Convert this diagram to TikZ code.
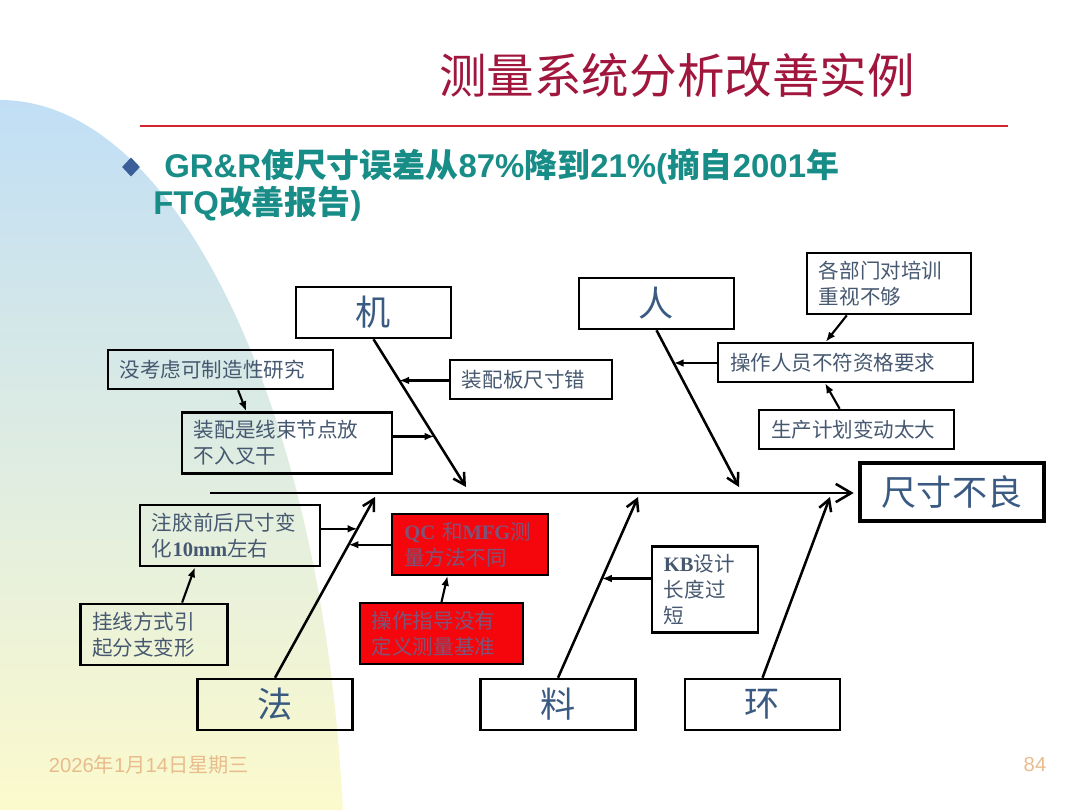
\documentclass[tikz,border=0pt]{standalone}
\usepackage{fontspec}
\setmainfont{Liberation Serif}
\newfontfamily\cjk{Noto Sans CJK SC}
\newfontfamily\arialfont{Liberation Sans}
\usetikzlibrary{shapes.geometric, arrows.meta, calc}

\definecolor{titlered}{RGB}{160,22,60}
\definecolor{rulered}{RGB}{212,36,48}
\definecolor{teal2}{RGB}{24,140,134}
\definecolor{bulletblue}{RGB}{58,94,152}
\definecolor{labelblue}{RGB}{58,90,130}
\definecolor{causeblue}{RGB}{70,88,112}
\definecolor{boxred}{RGB}{245,6,12}
\definecolor{redtext}{RGB}{125,84,120}
\definecolor{footorange}{RGB}{232,188,140}
\definecolor{bgblue}{RGB}{192,222,246}
\definecolor{bgmid}{RGB}{232,244,240}
\definecolor{bgyellow}{RGB}{252,250,205}

\begin{document}
\begin{tikzpicture}[
    x=0.025cm, y=-0.025cm,
    catbox/.style={
        rectangle,
        draw,
        line width=1.9pt,
        minimum width=3.87cm,
        minimum height=1.27cm,
        text=labelblue,
        font=\cjk\fontsize{25}{30}\selectfont
    },
    causebox/.style={
        rectangle,
        draw,
        line width=1.9pt,
        align=left,
        text width=#1,
        minimum height=0.97cm,
        inner xsep=0.3cm,
        inner ysep=0.2cm,
        text=causeblue,
        font=\cjk\fontsize{14.6}{18.5}\selectfont
    },
    redbox/.style={
        causebox=#1,
        fill=boxred,
        line width=1.5pt,
        text=redtext
    },
    subtitle/.style={
        anchor=base west,
        inner sep=0pt,
        text=teal2,
        font=\arialfont\bfseries\fontsize{23.4}{28}\selectfont
    },
    bone/.style={
        line width=1.8pt,
        -{Straight Barb[length=8pt, width=9pt, line width=1.8pt]}
    },
    feed/.style={
        line width=1.5pt,
        -{Latex[length=7pt, width=5.5pt]}
    }
]

% Background
\useasboundingbox (0,0) rectangle (1080,810);
\begin{scope}
    \clip (0,900) ellipse [x radius=345, y radius=800];
    \shade[top color=bgblue, middle color=bgmid, bottom color=bgyellow] (0,95) rectangle (350,810);
\end{scope}

% Title
\node[text=titlered, font=\cjk\fontsize{33.8}{40}\selectfont] (title) at (677,75) {测量系统分析改善实例};
\draw[rulered, line width=2pt] (140,126) -- (1008,126);

% Bullet text
\node[diamond, fill=bulletblue, inner sep=0pt, minimum width=0.45cm, minimum height=0.48cm] (bullet) at (131,167) {};
\node[subtitle] (sub1) at (164,177) {GR\&R{\cjk 使尺寸误差从}87\%{\cjk 降到}21\%({\cjk 摘自}2001{\cjk 年}};
\node[subtitle] (sub2) at (153,214) {FTQ{\cjk 改善报告})};

% Effect and spine
\node[catbox, minimum width=4.6cm, minimum height=1.47cm, line width=2.9pt] (effect) at (952,492) {尺寸不良};
\coordinate (tail) at (210,493);
\draw[line width=2pt, -{Straight Barb[length=11pt, width=13pt, line width=1.8pt]}, shorten >=3pt] (tail) -- (tail -| effect.west);

% Main categories
\node[catbox] (ji) at (373.5,312.5) {机};
\node[catbox] (ren) at (656.5,303.5) {人};
\node[catbox] (fa) at (275,704.5) {法};
\node[catbox] (liao) at (558,704.5) {料};
\node[catbox] (huan) at (762.5,704.5) {环};

\coordinate (jitip) at (466,487);
\coordinate (rentip) at (739,487);
\coordinate (fatip) at (375,497);
\coordinate (liaotip) at (638,497);
\coordinate (huantip) at (830,497);

\draw[bone] (ji.south) -- (jitip);
\draw[bone] (ren.south) -- (rentip);
\draw[bone] (fa.north) -- (fatip);
\draw[bone] (liao.north) -- (liaotip);
\draw[bone] (huan.north) -- (huantip);

% Causes
\node[causebox=5.03cm] (ji1) at (220.5,369.5) {没考虑可制造性研究};
\node[causebox=4.65cm] (ji2) at (287,443) {装配是线束节点放\\不入叉干};
\node[causebox=3.45cm] (ji3) at (531,379.5) {装配板尺寸错};
\node[causebox=3.5cm] (ren1) at (889,283.5) {各部门对培训\\重视不够};
\node[causebox=5.77cm] (ren2) at (845.5,362.5) {操作人员不符资格要求};
\node[causebox=4.27cm] (ren3) at (856.5,429.5) {生产计划变动太大};
\node[causebox=3.9cm] (fa1) at (230,535.5) {注胶前后尺寸变\\化{\rmfamily\bfseries 10mm}左右};
\node[causebox=3.08cm] (fa2) at (154,634.5) {挂线方式引\\起分支变形};
\node[redbox=3.28cm] (fa3) at (470,544.5) {{\rmfamily\bfseries QC} 和{\rmfamily\bfseries MFG}测\\量方法不同};
\node[redbox=3.48cm] (fa4) at (441.5,633.5) {操作指导没有\\定义测量基准};
\node[causebox=2.05cm] (liao1) at (705,589.5) {{\rmfamily\bfseries KB}设计\\长度过\\短};

% Where the causes meet the bones
\coordinate (jihit3) at ($(ji.south)!0.279!(jitip)$);
\coordinate (jihit2) at ($(ji.south)!0.658!(jitip)$);
\coordinate (renhit2) at ($(ren.south)!0.209!(rentip)$);
\coordinate (fahit1) at ($(fa.north)!0.824!(fatip)$);
\coordinate (fahit3) at ($(fa.north)!0.736!(fatip)$);
\coordinate (liaohit1) at ($(liao.north)!0.549!(liaotip)$);

% Arrows
\draw[feed] (ji3.west |- jihit3) -- (jihit3);
\draw[feed] (ji2.east |- jihit2) -- (jihit2);
\draw[feed] ([xshift=12.5pt]ji1.south) -- ([xshift=-29pt]ji2.north);
\draw[feed] (ren2.west |- renhit2) -- (renhit2);
\draw[feed] ([xshift=-30pt]ren1.south) -- ([xshift=-14pt]ren2.north);
\draw[feed] ([xshift=-12pt]ren3.north) -- ([xshift=-14.5pt]ren2.south);
\draw[feed] (fa1.east |- fahit1) -- (fahit1);
\draw[feed] (fa3.west |- fahit3) -- (fahit3);
\draw[feed] ([xshift=20pt]fa2.north) -- ([xshift=-25pt]fa1.south);
\draw[feed] (fa4.north) -- ([xshift=-16pt]fa3.south);
\draw[feed] (liao1.west |- liaohit1) -- (liaohit1);

% Footer
\node[text=footorange, font=\arialfont\fontsize{14.4}{17}\selectfont] (date) at (149,765) {2026{\cjk 年}1{\cjk 月}14{\cjk 日星期三}};
\node[text=footorange, font=\arialfont\fontsize{14.4}{17}\selectfont] (page) at (1035,765) {84};

\end{tikzpicture}
\end{document}
